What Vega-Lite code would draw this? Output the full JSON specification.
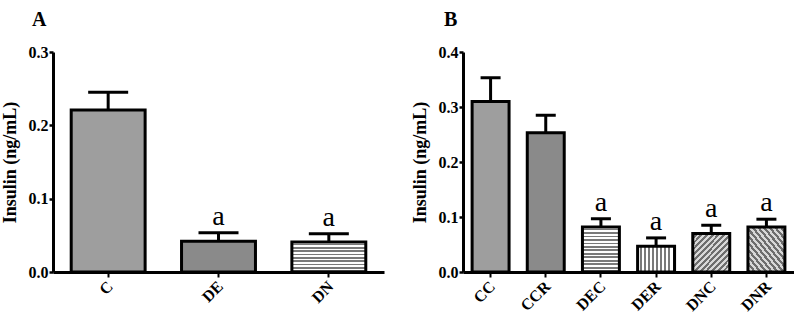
{
  "$schema": "https://vega.github.io/schema/vega-lite/v6.json",
  "padding": {"left": 1, "top": 10, "right": 0, "bottom": 0},
  "background": "white",
  "spacing": 27,
  "config": {
    "font": "Liberation Serif",
    "view": {"stroke": null},
    "axis": {
      "domainColor": "black", "tickColor": "black", "labelColor": "black", "titleColor": "black",
      "domainWidth": 3, "tickWidth": 2.5, "grid": false,
      "labelFont": "Liberation Serif", "titleFont": "Liberation Serif",
      "labelFontWeight": "bold", "titleFontWeight": "bold"
    },
    "axisX": {"labels": false, "tickSize": 5, "tickWidth": 2, "title": null},
    "axisY": {"labelFontSize": 16, "titleFontSize": 18, "tickSize": 4, "labelPadding": 1, "titlePadding": 9, "format": ".1f"},
    "title": {"font": "Liberation Serif", "fontWeight": "bold", "fontSize": 20, "color": "black"}
  },
  "hconcat": [
    {
      "width": 331, "height": 220,
      "title": {"text": "A", "anchor": "start", "frame": "group", "dx": -21, "offset": 14},
      "data": {"values": [
        {"g": "C", "value": 0.221, "err": 0.245, "sig": ""},
        {"g": "DE", "value": 0.042, "err": 0.0535, "sig": "a"},
        {"g": "DN", "value": 0.041, "err": 0.052, "sig": "a"}
      ]},
      "encoding": {
        "x": {"field": "g", "type": "nominal", "sort": null,
          "scale": {"paddingInner": 0.33, "paddingOuter": 0.165}}
      },
      "layer": [
        {"mark": {"type": "bar", "stroke": "black", "strokeWidth": 3},
         "encoding": {
           "y": {"field": "value", "type": "quantitative",
             "scale": {"domain": [0, 0.3], "nice": false},
             "axis": {"title": "Insulin (ng/mL)", "values": [0, 0.1, 0.2, 0.3]}},
           "fill": {"condition": [
             {"test": "datum.g === 'DE'", "value": "#8a8a8a"},
             {"test": "datum.g === 'DN'", "value": {"gradient": "linear", "x1": 0, "y1": 0, "x2": 0, "y2": 1, "stops": [
               {"offset": 0, "color": "#ffffff"}, {"offset": 0.0556, "color": "#ffffff"}, {"offset": 0.0556, "color": "#7a7a7a"}, {"offset": 0.1111, "color": "#7a7a7a"},
               {"offset": 0.1111, "color": "#ffffff"}, {"offset": 0.1667, "color": "#ffffff"}, {"offset": 0.1667, "color": "#7a7a7a"}, {"offset": 0.2222, "color": "#7a7a7a"},
               {"offset": 0.2222, "color": "#ffffff"}, {"offset": 0.2778, "color": "#ffffff"}, {"offset": 0.2778, "color": "#7a7a7a"}, {"offset": 0.3333, "color": "#7a7a7a"},
               {"offset": 0.3333, "color": "#ffffff"}, {"offset": 0.3889, "color": "#ffffff"}, {"offset": 0.3889, "color": "#7a7a7a"}, {"offset": 0.4444, "color": "#7a7a7a"},
               {"offset": 0.4444, "color": "#ffffff"}, {"offset": 0.5, "color": "#ffffff"}, {"offset": 0.5, "color": "#7a7a7a"}, {"offset": 0.5556, "color": "#7a7a7a"},
               {"offset": 0.5556, "color": "#ffffff"}, {"offset": 0.6111, "color": "#ffffff"}, {"offset": 0.6111, "color": "#7a7a7a"}, {"offset": 0.6667, "color": "#7a7a7a"},
               {"offset": 0.6667, "color": "#ffffff"}, {"offset": 0.7222, "color": "#ffffff"}, {"offset": 0.7222, "color": "#7a7a7a"}, {"offset": 0.7778, "color": "#7a7a7a"},
               {"offset": 0.7778, "color": "#ffffff"}, {"offset": 0.8333, "color": "#ffffff"}, {"offset": 0.8333, "color": "#7a7a7a"}, {"offset": 0.8889, "color": "#7a7a7a"},
               {"offset": 0.8889, "color": "#ffffff"}, {"offset": 0.9444, "color": "#ffffff"}, {"offset": 0.9444, "color": "#7a7a7a"}, {"offset": 1, "color": "#7a7a7a"}
             ]}}
           ], "value": "#9e9e9e"}
         }},
        {"mark": {"type": "rule", "strokeWidth": 3, "color": "black"},
         "encoding": {"y": {"field": "value", "type": "quantitative"}, "y2": {"field": "err"}}},
        {"mark": {"type": "tick", "size": 40, "thickness": 3, "color": "black", "opacity": 1},
         "encoding": {"y": {"field": "err", "type": "quantitative"}}},
        {"mark": {"type": "text", "fontSize": 28, "baseline": "alphabetic", "dy": -8, "color": "black"},
         "encoding": {"y": {"field": "err", "type": "quantitative"}, "text": {"field": "sig"}}},
        {"mark": {"type": "text", "angle": 315, "align": "right", "baseline": "middle", "dx": -7, "dy": 10, "fontSize": 16, "fontWeight": "bold", "color": "black"},
         "encoding": {"y": {"datum": 0, "type": "quantitative"}, "text": {"field": "g"}}}
      ]
    },
    {
      "width": 331, "height": 220,
      "title": {"text": "B", "anchor": "start", "frame": "group", "dx": -19, "offset": 14},
      "data": {"values": [
        {"g": "CC", "value": 0.31, "err": 0.353, "sig": ""},
        {"g": "CCR", "value": 0.253, "err": 0.285, "sig": ""},
        {"g": "DEC", "value": 0.082, "err": 0.097, "sig": "a"},
        {"g": "DER", "value": 0.047, "err": 0.062, "sig": "a"},
        {"g": "DNC", "value": 0.07, "err": 0.085, "sig": "a"},
        {"g": "DNR", "value": 0.082, "err": 0.096, "sig": "a"}
      ]},
      "encoding": {
        "x": {"field": "g", "type": "nominal", "sort": null,
          "scale": {"paddingInner": 0.33, "paddingOuter": 0.165}}
      },
      "layer": [
        {"mark": {"type": "bar", "stroke": "black", "strokeWidth": 3},
         "encoding": {
           "y": {"field": "value", "type": "quantitative",
             "scale": {"domain": [0, 0.4], "nice": false},
             "axis": {"title": "Insulin (ng/mL)", "values": [0, 0.1, 0.2, 0.3, 0.4]}},
           "fill": {"condition": [
             {"test": "datum.g === 'CCR'", "value": "#8a8a8a"},
             {"test": "datum.g === 'DEC'", "value": {"gradient": "linear", "x1": 0, "y1": 0, "x2": 0, "y2": 1, "stops": [
               {"offset": 0, "color": "#ffffff"}, {"offset": 0.0385, "color": "#ffffff"}, {"offset": 0.0385, "color": "#7a7a7a"}, {"offset": 0.0769, "color": "#7a7a7a"},
               {"offset": 0.0769, "color": "#ffffff"}, {"offset": 0.1154, "color": "#ffffff"}, {"offset": 0.1154, "color": "#7a7a7a"}, {"offset": 0.1538, "color": "#7a7a7a"},
               {"offset": 0.1538, "color": "#ffffff"}, {"offset": 0.1923, "color": "#ffffff"}, {"offset": 0.1923, "color": "#7a7a7a"}, {"offset": 0.2308, "color": "#7a7a7a"},
               {"offset": 0.2308, "color": "#ffffff"}, {"offset": 0.2692, "color": "#ffffff"}, {"offset": 0.2692, "color": "#7a7a7a"}, {"offset": 0.3077, "color": "#7a7a7a"},
               {"offset": 0.3077, "color": "#ffffff"}, {"offset": 0.3462, "color": "#ffffff"}, {"offset": 0.3462, "color": "#7a7a7a"}, {"offset": 0.3846, "color": "#7a7a7a"},
               {"offset": 0.3846, "color": "#ffffff"}, {"offset": 0.4231, "color": "#ffffff"}, {"offset": 0.4231, "color": "#7a7a7a"}, {"offset": 0.4615, "color": "#7a7a7a"},
               {"offset": 0.4615, "color": "#ffffff"}, {"offset": 0.5, "color": "#ffffff"}, {"offset": 0.5, "color": "#7a7a7a"}, {"offset": 0.5385, "color": "#7a7a7a"},
               {"offset": 0.5385, "color": "#ffffff"}, {"offset": 0.5769, "color": "#ffffff"}, {"offset": 0.5769, "color": "#7a7a7a"}, {"offset": 0.6154, "color": "#7a7a7a"},
               {"offset": 0.6154, "color": "#ffffff"}, {"offset": 0.6538, "color": "#ffffff"}, {"offset": 0.6538, "color": "#7a7a7a"}, {"offset": 0.6923, "color": "#7a7a7a"},
               {"offset": 0.6923, "color": "#ffffff"}, {"offset": 0.7308, "color": "#ffffff"}, {"offset": 0.7308, "color": "#7a7a7a"}, {"offset": 0.7692, "color": "#7a7a7a"},
               {"offset": 0.7692, "color": "#ffffff"}, {"offset": 0.8077, "color": "#ffffff"}, {"offset": 0.8077, "color": "#7a7a7a"}, {"offset": 0.8462, "color": "#7a7a7a"},
               {"offset": 0.8462, "color": "#ffffff"}, {"offset": 0.8846, "color": "#ffffff"}, {"offset": 0.8846, "color": "#7a7a7a"}, {"offset": 0.9231, "color": "#7a7a7a"},
               {"offset": 0.9231, "color": "#ffffff"}, {"offset": 0.9615, "color": "#ffffff"}, {"offset": 0.9615, "color": "#7a7a7a"}, {"offset": 1, "color": "#7a7a7a"}
             ]}},
             {"test": "datum.g === 'DER'", "value": {"gradient": "linear", "x1": 0, "y1": 0, "x2": 1, "y2": 0, "stops": [
               {"offset": 0, "color": "#ffffff"}, {"offset": 0.0556, "color": "#ffffff"}, {"offset": 0.0556, "color": "#7a7a7a"}, {"offset": 0.1111, "color": "#7a7a7a"},
               {"offset": 0.1111, "color": "#ffffff"}, {"offset": 0.1667, "color": "#ffffff"}, {"offset": 0.1667, "color": "#7a7a7a"}, {"offset": 0.2222, "color": "#7a7a7a"},
               {"offset": 0.2222, "color": "#ffffff"}, {"offset": 0.2778, "color": "#ffffff"}, {"offset": 0.2778, "color": "#7a7a7a"}, {"offset": 0.3333, "color": "#7a7a7a"},
               {"offset": 0.3333, "color": "#ffffff"}, {"offset": 0.3889, "color": "#ffffff"}, {"offset": 0.3889, "color": "#7a7a7a"}, {"offset": 0.4444, "color": "#7a7a7a"},
               {"offset": 0.4444, "color": "#ffffff"}, {"offset": 0.5, "color": "#ffffff"}, {"offset": 0.5, "color": "#7a7a7a"}, {"offset": 0.5556, "color": "#7a7a7a"},
               {"offset": 0.5556, "color": "#ffffff"}, {"offset": 0.6111, "color": "#ffffff"}, {"offset": 0.6111, "color": "#7a7a7a"}, {"offset": 0.6667, "color": "#7a7a7a"},
               {"offset": 0.6667, "color": "#ffffff"}, {"offset": 0.7222, "color": "#ffffff"}, {"offset": 0.7222, "color": "#7a7a7a"}, {"offset": 0.7778, "color": "#7a7a7a"},
               {"offset": 0.7778, "color": "#ffffff"}, {"offset": 0.8333, "color": "#ffffff"}, {"offset": 0.8333, "color": "#7a7a7a"}, {"offset": 0.8889, "color": "#7a7a7a"},
               {"offset": 0.8889, "color": "#ffffff"}, {"offset": 0.9444, "color": "#ffffff"}, {"offset": 0.9444, "color": "#7a7a7a"}, {"offset": 1, "color": "#7a7a7a"}
             ]}},
             {"test": "datum.g === 'DNC'", "value": {"gradient": "linear", "x1": 0, "y1": 0, "x2": 1, "y2": 1, "stops": [
               {"offset": 0, "color": "#d8d8d8"}, {"offset": 0.0385, "color": "#d8d8d8"}, {"offset": 0.0385, "color": "#6e6e6e"}, {"offset": 0.0769, "color": "#6e6e6e"},
               {"offset": 0.0769, "color": "#d8d8d8"}, {"offset": 0.1154, "color": "#d8d8d8"}, {"offset": 0.1154, "color": "#6e6e6e"}, {"offset": 0.1538, "color": "#6e6e6e"},
               {"offset": 0.1538, "color": "#d8d8d8"}, {"offset": 0.1923, "color": "#d8d8d8"}, {"offset": 0.1923, "color": "#6e6e6e"}, {"offset": 0.2308, "color": "#6e6e6e"},
               {"offset": 0.2308, "color": "#d8d8d8"}, {"offset": 0.2692, "color": "#d8d8d8"}, {"offset": 0.2692, "color": "#6e6e6e"}, {"offset": 0.3077, "color": "#6e6e6e"},
               {"offset": 0.3077, "color": "#d8d8d8"}, {"offset": 0.3462, "color": "#d8d8d8"}, {"offset": 0.3462, "color": "#6e6e6e"}, {"offset": 0.3846, "color": "#6e6e6e"},
               {"offset": 0.3846, "color": "#d8d8d8"}, {"offset": 0.4231, "color": "#d8d8d8"}, {"offset": 0.4231, "color": "#6e6e6e"}, {"offset": 0.4615, "color": "#6e6e6e"},
               {"offset": 0.4615, "color": "#d8d8d8"}, {"offset": 0.5, "color": "#d8d8d8"}, {"offset": 0.5, "color": "#6e6e6e"}, {"offset": 0.5385, "color": "#6e6e6e"},
               {"offset": 0.5385, "color": "#d8d8d8"}, {"offset": 0.5769, "color": "#d8d8d8"}, {"offset": 0.5769, "color": "#6e6e6e"}, {"offset": 0.6154, "color": "#6e6e6e"},
               {"offset": 0.6154, "color": "#d8d8d8"}, {"offset": 0.6538, "color": "#d8d8d8"}, {"offset": 0.6538, "color": "#6e6e6e"}, {"offset": 0.6923, "color": "#6e6e6e"},
               {"offset": 0.6923, "color": "#d8d8d8"}, {"offset": 0.7308, "color": "#d8d8d8"}, {"offset": 0.7308, "color": "#6e6e6e"}, {"offset": 0.7692, "color": "#6e6e6e"},
               {"offset": 0.7692, "color": "#d8d8d8"}, {"offset": 0.8077, "color": "#d8d8d8"}, {"offset": 0.8077, "color": "#6e6e6e"}, {"offset": 0.8462, "color": "#6e6e6e"},
               {"offset": 0.8462, "color": "#d8d8d8"}, {"offset": 0.8846, "color": "#d8d8d8"}, {"offset": 0.8846, "color": "#6e6e6e"}, {"offset": 0.9231, "color": "#6e6e6e"},
               {"offset": 0.9231, "color": "#d8d8d8"}, {"offset": 0.9615, "color": "#d8d8d8"}, {"offset": 0.9615, "color": "#6e6e6e"}, {"offset": 1, "color": "#6e6e6e"}
             ]}},
             {"test": "datum.g === 'DNR'", "value": {"gradient": "linear", "x1": 1, "y1": 0, "x2": 0, "y2": 1, "stops": [
               {"offset": 0, "color": "#d8d8d8"}, {"offset": 0.0385, "color": "#d8d8d8"}, {"offset": 0.0385, "color": "#6e6e6e"}, {"offset": 0.0769, "color": "#6e6e6e"},
               {"offset": 0.0769, "color": "#d8d8d8"}, {"offset": 0.1154, "color": "#d8d8d8"}, {"offset": 0.1154, "color": "#6e6e6e"}, {"offset": 0.1538, "color": "#6e6e6e"},
               {"offset": 0.1538, "color": "#d8d8d8"}, {"offset": 0.1923, "color": "#d8d8d8"}, {"offset": 0.1923, "color": "#6e6e6e"}, {"offset": 0.2308, "color": "#6e6e6e"},
               {"offset": 0.2308, "color": "#d8d8d8"}, {"offset": 0.2692, "color": "#d8d8d8"}, {"offset": 0.2692, "color": "#6e6e6e"}, {"offset": 0.3077, "color": "#6e6e6e"},
               {"offset": 0.3077, "color": "#d8d8d8"}, {"offset": 0.3462, "color": "#d8d8d8"}, {"offset": 0.3462, "color": "#6e6e6e"}, {"offset": 0.3846, "color": "#6e6e6e"},
               {"offset": 0.3846, "color": "#d8d8d8"}, {"offset": 0.4231, "color": "#d8d8d8"}, {"offset": 0.4231, "color": "#6e6e6e"}, {"offset": 0.4615, "color": "#6e6e6e"},
               {"offset": 0.4615, "color": "#d8d8d8"}, {"offset": 0.5, "color": "#d8d8d8"}, {"offset": 0.5, "color": "#6e6e6e"}, {"offset": 0.5385, "color": "#6e6e6e"},
               {"offset": 0.5385, "color": "#d8d8d8"}, {"offset": 0.5769, "color": "#d8d8d8"}, {"offset": 0.5769, "color": "#6e6e6e"}, {"offset": 0.6154, "color": "#6e6e6e"},
               {"offset": 0.6154, "color": "#d8d8d8"}, {"offset": 0.6538, "color": "#d8d8d8"}, {"offset": 0.6538, "color": "#6e6e6e"}, {"offset": 0.6923, "color": "#6e6e6e"},
               {"offset": 0.6923, "color": "#d8d8d8"}, {"offset": 0.7308, "color": "#d8d8d8"}, {"offset": 0.7308, "color": "#6e6e6e"}, {"offset": 0.7692, "color": "#6e6e6e"},
               {"offset": 0.7692, "color": "#d8d8d8"}, {"offset": 0.8077, "color": "#d8d8d8"}, {"offset": 0.8077, "color": "#6e6e6e"}, {"offset": 0.8462, "color": "#6e6e6e"},
               {"offset": 0.8462, "color": "#d8d8d8"}, {"offset": 0.8846, "color": "#d8d8d8"}, {"offset": 0.8846, "color": "#6e6e6e"}, {"offset": 0.9231, "color": "#6e6e6e"},
               {"offset": 0.9231, "color": "#d8d8d8"}, {"offset": 0.9615, "color": "#d8d8d8"}, {"offset": 0.9615, "color": "#6e6e6e"}, {"offset": 1, "color": "#6e6e6e"}
             ]}}
           ], "value": "#9e9e9e"}
         }},
        {"mark": {"type": "rule", "strokeWidth": 3, "color": "black"},
         "encoding": {"y": {"field": "value", "type": "quantitative"}, "y2": {"field": "err"}}},
        {"mark": {"type": "tick", "size": 20, "thickness": 3, "color": "black", "opacity": 1},
         "encoding": {"y": {"field": "err", "type": "quantitative"}}},
        {"mark": {"type": "text", "fontSize": 28, "baseline": "alphabetic", "dy": -8, "color": "black"},
         "encoding": {"y": {"field": "err", "type": "quantitative"}, "text": {"field": "sig"}}},
        {"mark": {"type": "text", "angle": 315, "align": "right", "baseline": "middle", "dx": -7, "dy": 10, "fontSize": 16, "fontWeight": "bold", "color": "black"},
         "encoding": {"y": {"datum": 0, "type": "quantitative"}, "text": {"field": "g"}}}
      ]
    }
  ]
}
